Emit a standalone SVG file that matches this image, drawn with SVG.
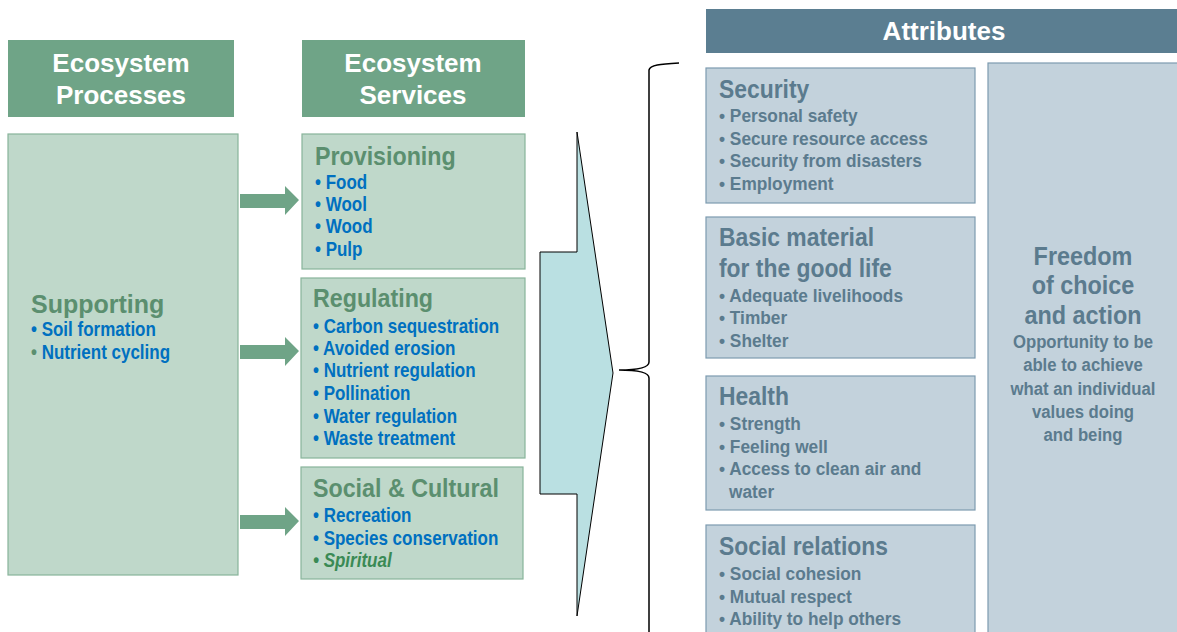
<svg xmlns="http://www.w3.org/2000/svg" width="1177" height="632" viewBox="0 0 1177 632">
<style>
text{font-family:"Liberation Sans",Arial,sans-serif;font-weight:bold}
.hdr{fill:#6fa487}
.hdrt{fill:#fff;font-size:26px;text-anchor:middle}
.gbox{fill:#bfd8ca;stroke:#88b49a;stroke-width:1.2}
.gt{fill:#5b8f6f;font-size:25px}
.bi{fill:#0070c0;font-size:20px}
.sp{fill:#3a8a55;font-size:20px;font-style:italic}
.bbox{fill:#c3d2dc;stroke:#7d9bb0;stroke-width:1.2}
.bt{fill:#5b7b8e;font-size:26px}
.bs{fill:#5b7b8e;font-size:19px}
.mid{text-anchor:middle}
.arr{fill:#6fa487}
</style>
<g id="hdr-processes">
<rect class="hdr" x="8" y="40" width="226" height="77"/>
<text class="hdrt" x="121" y="72">Ecosystem</text>
<text class="hdrt" x="121" y="104">Processes</text>
</g>
<g id="hdr-services">
<rect class="hdr" x="302" y="40" width="223" height="77"/>
<text class="hdrt" x="413" y="72">Ecosystem</text>
<text class="hdrt" x="413" y="104">Services</text>
</g>
<g id="supporting">
<rect class="gbox" x="8" y="134" width="230" height="441"/>
<text class="gt" transform="translate(31,313)">Supporting</text>
<text class="bi" transform="translate(31,336) scale(0.85,1)">• Soil formation</text>
<text class="bi" transform="translate(31,359) scale(0.85,1)"><tspan fill="#5b8f6f">•</tspan> Nutrient cycling</text>
</g>
<g id="provisioning">
<rect class="gbox" x="302" y="134" width="223" height="135"/>
<text class="gt" transform="translate(315,165) scale(0.93,1)">Provisioning</text>
<text class="bi" transform="translate(315,189) scale(0.85,1)">• Food</text>
<text class="bi" transform="translate(315,211) scale(0.85,1)">• Wool</text>
<text class="bi" transform="translate(315,233) scale(0.85,1)">• Wood</text>
<text class="bi" transform="translate(315,256) scale(0.85,1)">• Pulp</text>
</g>
<g id="regulating">
<rect class="gbox" x="301" y="278" width="224" height="180"/>
<text class="gt" transform="translate(313,307) scale(0.93,1)">Regulating</text>
<text class="bi" transform="translate(313,333) scale(0.85,1)">• Carbon sequestration</text>
<text class="bi" transform="translate(313,355) scale(0.85,1)">• Avoided erosion</text>
<text class="bi" transform="translate(313,377) scale(0.85,1)">• Nutrient regulation</text>
<text class="bi" transform="translate(313,400) scale(0.85,1)">• Pollination</text>
<text class="bi" transform="translate(313,423) scale(0.85,1)">• Water regulation</text>
<text class="bi" transform="translate(313,445) scale(0.85,1)">• Waste treatment</text>
</g>
<g id="social-cultural">
<rect class="gbox" x="301" y="467" width="222" height="112"/>
<text class="gt" transform="translate(313,497) scale(0.93,1)">Social &amp; Cultural</text>
<text class="bi" transform="translate(313,522) scale(0.85,1)">• Recreation</text>
<text class="bi" transform="translate(313,545) scale(0.85,1)">• Species conservation</text>
<text class="sp" transform="translate(313,567) scale(0.85,1)">• Spiritual</text>
</g>
<g id="connectors">
<polygon class="arr" points="240,194 285,194 285,186 299,200 285,215 285,208 240,208"/>
<polygon class="arr" points="240,345 285,345 285,337 299,351 285,366 285,359 240,359"/>
<polygon class="arr" points="240,515 285,515 285,507 299,521 285,536 285,529 240,529"/>
<polygon points="577,132 613,373 577,616 577,494 540,494 540,252 577,252" fill="#bae0e2" stroke="#000" stroke-width="1"/>
<path d="M679,63 C660,64 650,65 649,70 L649,362 C649,367 640,370 619,370 C640,370 649,373 649,378 L649,632" fill="none" stroke="#000" stroke-width="1.5"/>
</g>
<g id="attributes-hdr">
<rect x="706" y="9" width="471" height="44" fill="#5b7e91"/>
<text x="944" y="40" fill="#fff" font-size="26" text-anchor="middle">Attributes</text>
</g>
<g id="security">
<rect class="bbox" x="706" y="68" width="269" height="135"/>
<text class="bt" transform="translate(719,98) scale(0.88,1)">Security</text>
<text class="bs" transform="translate(719,122) scale(0.91,1)">• Personal safety</text>
<text class="bs" transform="translate(719,145) scale(0.91,1)">• Secure resource access</text>
<text class="bs" transform="translate(719,167) scale(0.91,1)">• Security from disasters</text>
<text class="bs" transform="translate(719,190) scale(0.91,1)">• Employment</text>
</g>
<g id="basic-material">
<rect class="bbox" x="706" y="217" width="269" height="141"/>
<text class="bt" transform="translate(719,246) scale(0.88,1)">Basic material</text>
<text class="bt" transform="translate(719,277) scale(0.88,1)">for the good life</text>
<text class="bs" transform="translate(719,302) scale(0.91,1)">• Adequate livelihoods</text>
<text class="bs" transform="translate(719,324) scale(0.91,1)">• Timber</text>
<text class="bs" transform="translate(719,347) scale(0.91,1)">• Shelter</text>
</g>
<g id="health">
<rect class="bbox" x="706" y="376" width="269" height="134"/>
<text class="bt" transform="translate(719,405) scale(0.88,1)">Health</text>
<text class="bs" transform="translate(719,430) scale(0.91,1)">• Strength</text>
<text class="bs" transform="translate(719,453) scale(0.91,1)">• Feeling well</text>
<text class="bs" transform="translate(719,475) scale(0.91,1)">• Access to clean air and</text>
<text class="bs" transform="translate(729,498) scale(0.91,1)">water</text>
</g>
<g id="social-relations">
<rect class="bbox" x="706" y="525" width="269" height="120"/>
<text class="bt" transform="translate(719,555) scale(0.88,1)">Social relations</text>
<text class="bs" transform="translate(719,580) scale(0.91,1)">• Social cohesion</text>
<text class="bs" transform="translate(719,603) scale(0.91,1)">• Mutual respect</text>
<text class="bs" transform="translate(719,625) scale(0.91,1)">• Ability  to help others</text>
</g>
<g id="freedom">
<rect class="bbox" x="988" y="63" width="200" height="580"/>
<text class="bt mid" transform="translate(1083,265) scale(0.9,1)">Freedom</text>
<text class="bt mid" transform="translate(1083,294) scale(0.9,1)">of choice</text>
<text class="bt mid" transform="translate(1083,324) scale(0.9,1)">and action</text>
<text class="bs mid" transform="translate(1083,348) scale(0.88,1)">Opportunity to be</text>
<text class="bs mid" transform="translate(1083,371) scale(0.88,1)">able to achieve</text>
<text class="bs mid" transform="translate(1083,395) scale(0.88,1)">what an individual</text>
<text class="bs mid" transform="translate(1083,418) scale(0.88,1)">values doing</text>
<text class="bs mid" transform="translate(1083,441) scale(0.88,1)">and being</text>
</g>
</svg>
